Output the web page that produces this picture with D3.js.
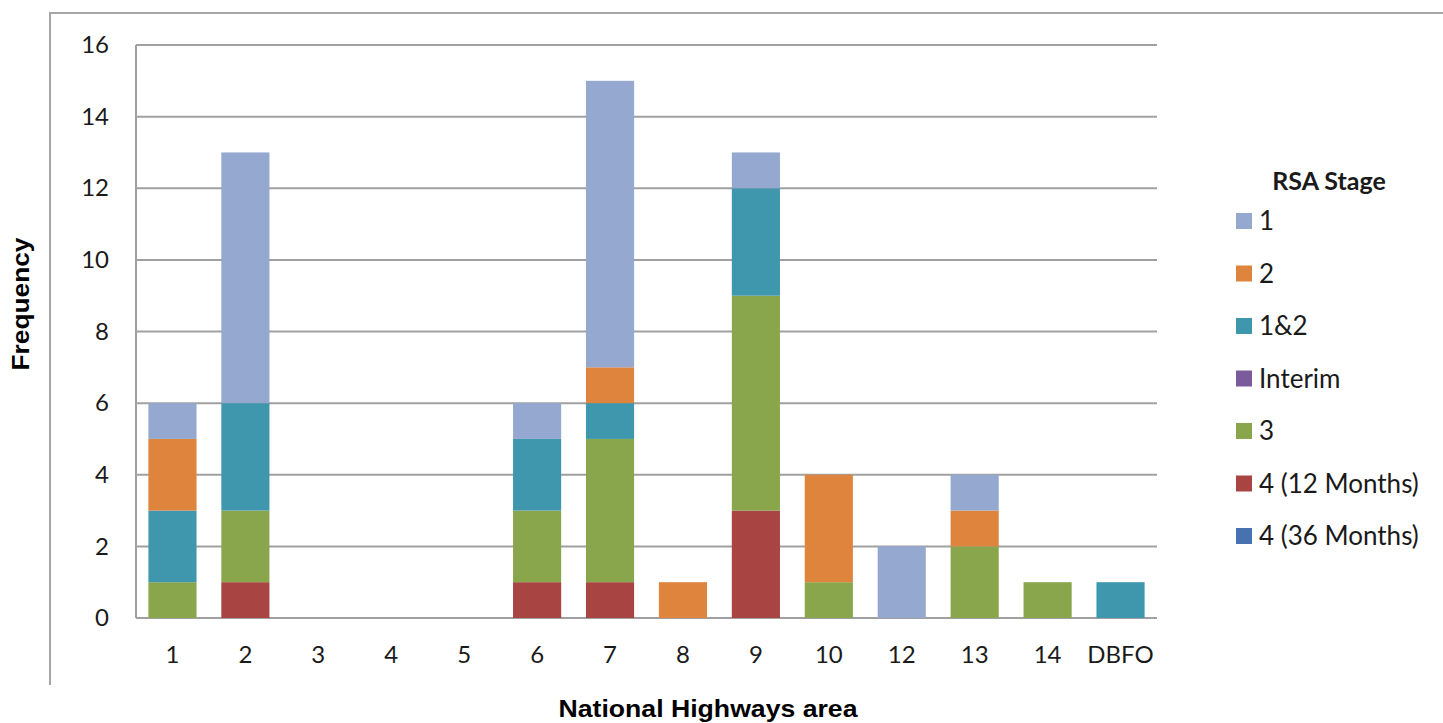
<!DOCTYPE html>
<html>
<head>
<meta charset="utf-8">
<script src="https://cdn.jsdelivr.net/npm/d3@7/dist/d3.min.js"></script>
<style>
  html, body { margin: 0; padding: 0; background: #fff; }
  svg { display: block; }
  .tick text { font-family: Lato, "Open Sans", sans-serif; font-size: 24px; fill: #1a1a1a; }
</style>
</head>
<body>
<svg id="chart" width="1443" height="723"></svg>
<script>
// National Highways areas and RSA stage counts per area
const areas = ["1", "2", "3", "4", "5", "6", "7", "8", "9", "10", "12", "13", "14", "DBFO"];
const stages = ["1", "2", "1&2", "Interim", "3", "4 (12 Months)", "4 (36 Months)"];
const stage1      = [1, 7, 0, 0, 0, 1, 8, 0, 1, 0, 2, 1, 0, 0];
const stage2      = [2, 0, 0, 0, 0, 0, 1, 1, 0, 3, 0, 1, 0, 0];
const stage1and2  = [2, 3, 0, 0, 0, 2, 1, 0, 3, 0, 0, 0, 0, 1];
const interim     = [0, 0, 0, 0, 0, 0, 0, 0, 0, 0, 0, 0, 0, 0];
const stage3      = [1, 2, 0, 0, 0, 2, 4, 0, 6, 1, 0, 2, 1, 0];
const stage4m12   = [0, 1, 0, 0, 0, 1, 1, 0, 3, 0, 0, 0, 0, 0];
const stage4m36   = [0, 0, 0, 0, 0, 0, 0, 0, 0, 0, 0, 0, 0, 0];
const yTicks = [0, 2, 4, 6, 8, 10, 12, 14, 16];

const seriesValues = {
  "1": stage1, "2": stage2, "1&2": stage1and2, "Interim": interim,
  "3": stage3, "4 (12 Months)": stage4m12, "4 (36 Months)": stage4m36
};
const colors = {
  "1": "#94a8d0", "2": "#de843c", "1&2": "#3f97ae", "Interim": "#7a5b9b",
  "3": "#8aa64c", "4 (12 Months)": "#a84543", "4 (36 Months)": "#4672b0"
};

const rows = areas.map((a, i) => {
  const r = { area: a };
  stages.forEach(s => r[s] = seriesValues[s][i]);
  return r;
});

// stack from the bottom: 4 (36 Months) first, stage 1 on top
const stackOrder = stages.slice().reverse();
const stacked = d3.stack().keys(stackOrder)(rows);

const svg = d3.select("#chart");
const margin = { left: 136, right: 1157, top: 45, bottom: 618 };

const x = d3.scaleBand().domain(areas).range([margin.left, margin.right]).paddingInner(0.34).paddingOuter(0.17);
const y = d3.scaleLinear().domain([0, 16]).range([margin.bottom, margin.top]);

// outer chart frame (top and left edges)
svg.append("path")
  .attr("d", `M50,685 L50,13 L1443,13`)
  .attr("fill", "none").attr("stroke", "#a6a6a6").attr("stroke-width", 2);

// horizontal gridlines
svg.append("g").selectAll("line").data(yTicks).join("line")
  .attr("x1", margin.left).attr("x2", margin.right)
  .attr("y1", d => y(d)).attr("y2", d => y(d))
  .attr("stroke", "#a0a0a0").attr("stroke-width", 2);

// left axis line
svg.append("line")
  .attr("x1", margin.left).attr("x2", margin.left)
  .attr("y1", margin.top).attr("y2", margin.bottom)
  .attr("stroke", "#a0a0a0").attr("stroke-width", 2);

// stacked bars
svg.append("g").selectAll("g").data(stacked).join("g")
  .attr("fill", d => colors[d.key])
  .selectAll("rect").data(d => d.filter(p => p[1] - p[0] > 0)).join("rect")
  .attr("x", d => x(d.data.area))
  .attr("width", x.bandwidth())
  .attr("y", d => y(d[1]))
  .attr("height", d => y(d[0]) - y(d[1]));

// y axis labels
const yAxis = svg.append("g").attr("transform", `translate(${margin.left},0)`)
  .call(d3.axisLeft(y).tickValues(yTicks).tickSize(0).tickPadding(27).tickFormat(d3.format("d")));
yAxis.select(".domain").remove();

// x axis labels
const xAxis = svg.append("g").attr("transform", `translate(0,${margin.bottom})`)
  .call(d3.axisBottom(x).tickSize(0).tickPadding(28));
xAxis.select(".domain").remove();

// axis titles
svg.append("text")
  .attr("transform", "translate(29,304) rotate(-90)")
  .attr("text-anchor", "middle")
  .attr("font-family", "Liberation Sans, Arial, sans-serif")
  .attr("font-weight", "bold").attr("font-size", 24).attr("fill", "#000")
  .attr("textLength", 133).attr("lengthAdjust", "spacingAndGlyphs")
  .text("Frequency");

svg.append("text")
  .attr("x", 708).attr("y", 717)
  .attr("text-anchor", "middle")
  .attr("font-family", "Liberation Sans, Arial, sans-serif")
  .attr("font-weight", "bold").attr("font-size", 24).attr("fill", "#000")
  .attr("textLength", 299).attr("lengthAdjust", "spacingAndGlyphs")
  .text("National Highways area");

// legend
const legend = svg.append("g");
legend.append("text")
  .attr("x", 1329).attr("y", 190)
  .attr("text-anchor", "middle")
  .attr("font-family", "Lato, 'Open Sans', sans-serif")
  .attr("font-weight", "bold").attr("font-size", 25).attr("fill", "#1a1a1a")
  .text("RSA Stage");

const items = legend.selectAll("g.item").data(stages).join("g")
  .attr("class", "item")
  .attr("transform", (d, i) => `translate(1236,${221 + i * 52.5})`);
items.append("rect")
  .attr("x", 0).attr("y", -8).attr("width", 16).attr("height", 16)
  .attr("fill", d => colors[d]);
items.append("text")
  .attr("x", 23).attr("y", 0).attr("dy", "0.36em")
  .attr("font-family", "Lato, 'Open Sans', sans-serif")
  .attr("font-size", 26).attr("fill", "#1a1a1a")
  .text(d => d);
</script>
</body>
</html>
